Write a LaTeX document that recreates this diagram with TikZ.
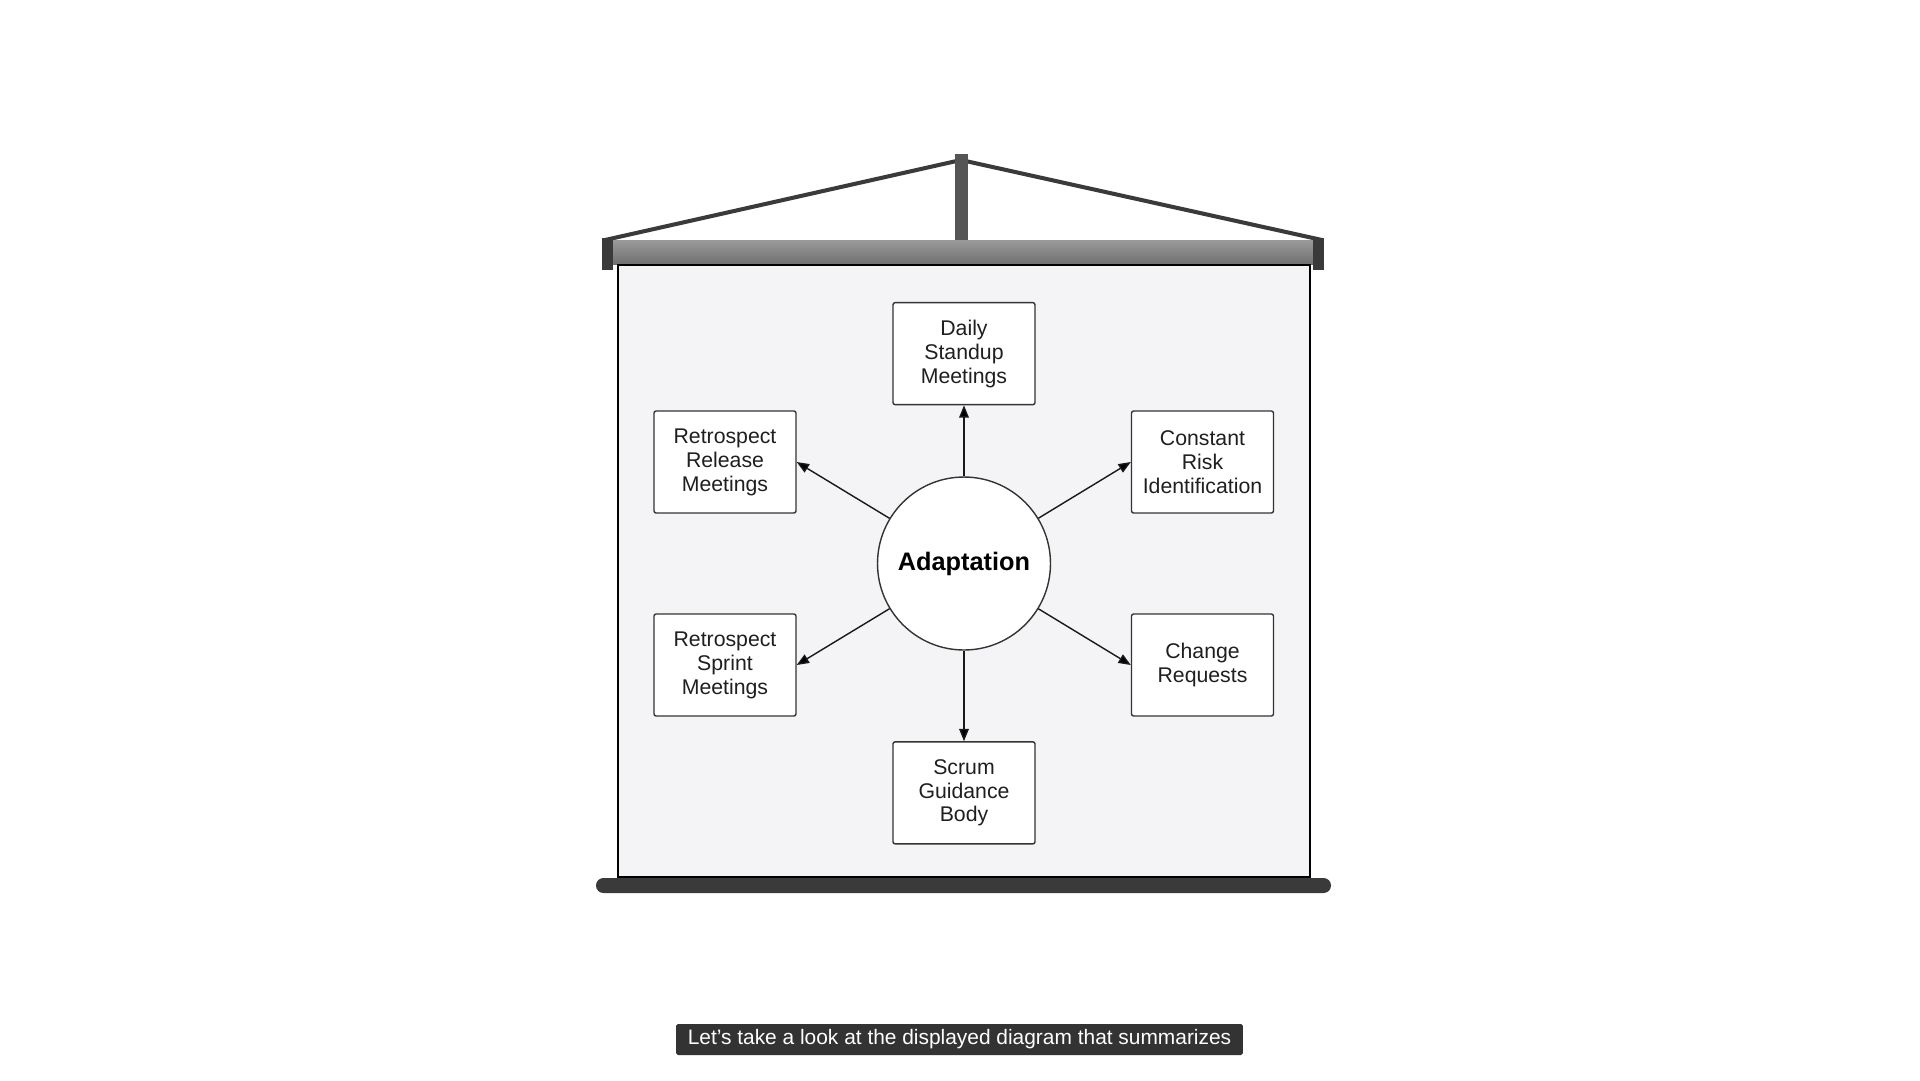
\documentclass[tikz,border=0pt]{standalone}
\usepackage{fontspec}
\setmainfont{Liberation Sans}
\usetikzlibrary{arrows.meta,positioning,shapes.geometric}
\definecolor{screenbg}{HTML}{F4F3F6}
\definecolor{darkbar}{HTML}{3A3A3A}
\definecolor{polegray}{HTML}{555555}
\definecolor{captionbg}{HTML}{333333}
\definecolor{rolltop}{HTML}{9A9A9A}
\definecolor{rollmid}{HTML}{D8D8D8}
\definecolor{rollbot}{HTML}{707070}

\begin{document}
\begin{tikzpicture}[x=0.02cm, y=-0.02cm,
    >={Triangle[length=7pt,width=5.5pt]},
    practice/.style={rectangle, rounded corners=1.2pt, draw=black!80, line width=0.8pt, fill=white,
      minimum width=2.84cm, minimum height=2.04cm, inner sep=0pt, align=center,
      font=\fontsize{12.1}{13.6}\selectfont, text=black!88},
    hub/.style={circle, draw=black!80, line width=0.8pt, fill=white, inner sep=0pt,
      minimum size=3.46cm, font=\fontsize{14.4}{16}\selectfont\bfseries},
    flow/.style={->, line width=0.8pt, draw=black!90}]
    \useasboundingbox (0,0) rectangle (1920,1080);

    % projector screen
    \draw[darkbar, line width=2.3pt, line join=miter] (605,240) -- (961,160) -- (1322,240);
    \fill[polegray] (955,154) rectangle (968,242);
    \shade[top color=rolltop, middle color=rollmid, bottom color=rollbot] (613,240) rectangle (1313,264);
    \fill[darkbar] (602,238) rectangle (613,270);
    \fill[darkbar] (1313,238) rectangle (1324,270);
    \draw[fill=screenbg, line width=1.6pt] (618,265) rectangle (1310,877);
    \fill[darkbar, rounded corners=4.2pt] (596,878) rectangle (1331,893);

    % diagram
    \node[hub] (adapt) at (964,563.5) {Adaptation};
    \node[practice, above=1.42cm of adapt] (dsm) {Daily\\Standup\\Meetings};
    \node[practice, below=1.81cm of adapt] (sgb) {Scrum\\Guidance\\Body};
    \node[practice] (rrm) at (725,462) {Retrospect\\Release\\Meetings};
    \node[practice] (cri) at (1202.5,462) {Constant\\Risk\\Identification};
    \node[practice] (rsm) at (725,665) {Retrospect\\Sprint\\Meetings};
    \node[practice] (cr) at (1202.5,665) {Change\\Requests};
    \draw[flow]
      (adapt) edge (dsm)
      (adapt) edge (rrm.east)
      (adapt) edge (cri.west)
      (adapt) edge (rsm.east)
      (adapt) edge (cr.west)
      (adapt) edge (sgb);

    % caption
    \node[fill=captionbg, text=white, rounded corners=1pt, inner sep=0pt,
      minimum width=11.34cm, minimum height=0.62cm, font=\fontsize{11.9}{14}\selectfont]
      (caption) at (959.5,1039.5) {Let’s take a look at the displayed diagram that summarizes};
\end{tikzpicture}
\end{document}
